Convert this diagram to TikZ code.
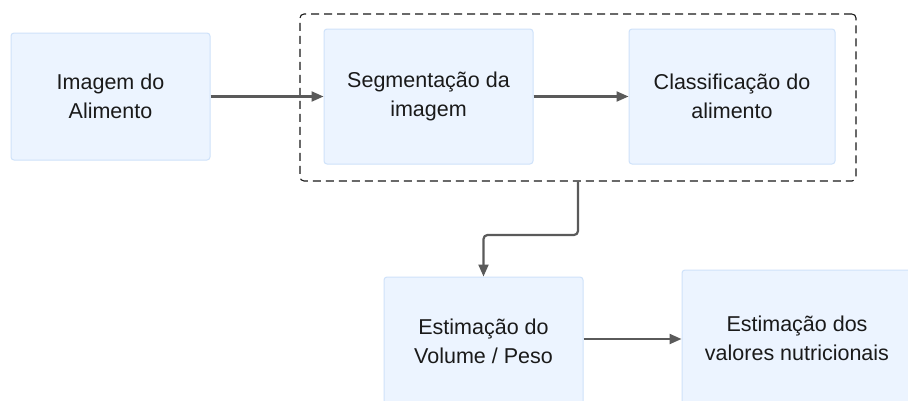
\documentclass[tikz,border=0pt]{standalone}
\usepackage{fontspec}
\setmainfont{Liberation Sans}
\usetikzlibrary{arrows.meta}
\definecolor{boxfill}{HTML}{ECF4FF}
\definecolor{boxline}{HTML}{CFE2FA}
\definecolor{arrowc}{HTML}{5A5A5A}
\definecolor{txt}{HTML}{1A1A1A}
\tikzset{
  procbox/.style={draw=boxline, fill=boxfill, line width=1pt, rounded corners=3pt,
    align=center, text=txt, font=\fontsize{21.5}{29}\selectfont, inner sep=0pt},
  grpbox/.style={draw=black!90, dash pattern=on 8pt off 5pt, line width=1.1pt, rounded corners=4pt, inner sep=0pt},
  conn/.style={draw=arrowc, line width=2.2pt, -{Triangle[length=12pt,width=10pt]}}
}
\begin{document}
\begin{tikzpicture}[x=1pt,y=-1pt]
\useasboundingbox (0,0) rectangle (908,400);
\clip (0,0) rectangle (908,400);
\fill[white] (0,0) rectangle (908,400);
\node[grpbox, minimum width=556pt, minimum height=167pt] (grp) at (578,97.5) {};
\node[procbox, minimum width=199pt, minimum height=127pt] (A) at (110.5,96.5) {Imagem do\\Alimento};
\node[procbox, minimum width=209pt, minimum height=135pt] (B) at (428.5,96.5) {Segmentação da\\imagem};
\node[procbox, minimum width=206pt, minimum height=135pt] (C) at (732,96.5) {Classificação do\\alimento};
\node[procbox, minimum width=199pt, minimum height=128pt] (D) at (483.5,341) {Estimação do\\Volume / Peso};
\node[procbox, minimum width=230pt, minimum height=136pt] (E) at (797,338) {Estimação dos\\valores nutricionais};
\draw[conn] (A.east) -- (B.west);
\draw[conn] (B.east) -- (C.west);
\draw[conn, rounded corners=4pt] (grp.south) -- (578,235) -- (483.5,235) -- (D.north);
\draw[conn] (D.east |- 0,339) -- (E.west |- 0,339);
\end{tikzpicture}
\end{document}
